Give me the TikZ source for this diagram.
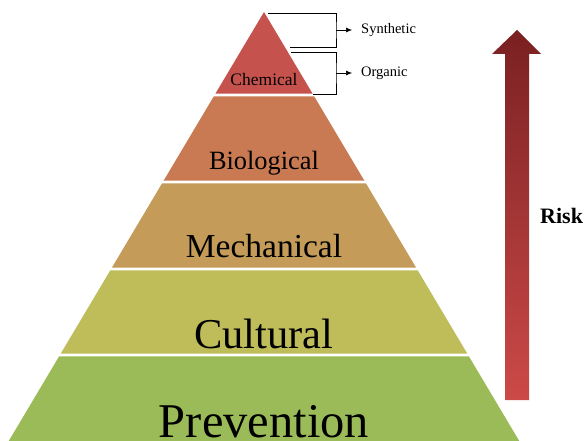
\documentclass[tikz,border=0pt]{standalone}
\usepackage{fontspec}
\setmainfont{Liberation Serif}
\usepackage{tikz}
\usetikzlibrary{math,arrows,arrows.meta,positioning,calc}

\definecolor{chem}{RGB}{198,82,78}
\definecolor{bio}{RGB}{201,122,82}
\definecolor{mech}{RGB}{196,155,88}
\definecolor{cult}{RGB}{191,188,90}
\definecolor{prev}{RGB}{155,187,89}
\definecolor{riskdark}{RGB}{122,32,34}
\definecolor{risklight}{RGB}{204,74,72}

\tikzset{>={Latex[length=6pt,width=5pt]},
    layer/.style={font=\fontsize{#1}{#1}\selectfont, anchor=base, inner sep=0pt},
    branch/.style={anchor=west, inner xsep=9pt, inner ysep=1pt, font=\fontsize{14.5}{14.5}\selectfont}}

\begin{document}
\begin{tikzpicture}[x=1pt, y=-1pt]
    \useasboundingbox (0,0) rectangle (586,441);
    \fill[white] (0,0) rectangle (586,441);

    % pyramid bands, apex at (264,12)
    \foreach[count=\i] \lname/\ltop/\lbot/\lcol/\lsize/\lbase in {Chemical/12/95/chem/17.5/86,Biological/95/182/bio/26.4/169,Mechanical/182/269/mech/33.5/257,Cultural/269/355/cult/42.5/348,Prevention/355/445/prev/48.5/437} {
        \pgfmathsetmacro\yt{\ltop+(\i>1)*1.3}
        \pgfmathsetmacro\yb{\lbot-1.3}
        \pgfmathsetmacro\wt{0.595*(\yt-12)}
        \pgfmathsetmacro\wb{0.595*(\yb-12)}
        \fill[\lcol] (264-\wt,\yt) -- (264+\wt,\yt) -- (264+\wb,\yb) -- (264-\wb,\yb) -- cycle;
        \node[layer=\lsize] (n-\i) at (264,\lbase) {\lname};
    }

    % chemical split
    \coordinate (syn-a) at (268,13);
    \coordinate (syn-b) at (290,47);
    \coordinate (syn-m) at (336,30);
    \coordinate (org-a) at (291,52);
    \coordinate (org-b) at (313,94);
    \coordinate (org-m) at (336,73);
    \draw[line width=0.6pt] (syn-a) -| (syn-m) |- (syn-b);
    \draw[line width=0.6pt] (org-a) -| (org-m) |- (org-b);
    \node[branch] (syn) at (352,30) {Synthetic};
    \node[branch] (org) at (352,73) {Organic};
    \draw[->, line width=0.6pt] (syn-m) -- (syn);
    \draw[->, line width=0.6pt] (org-m) -- (org);

    % risk arrow
    \shade[top color=riskdark, bottom color=risklight]
        (517,30) -- (541,54) -- (529,54) -- (529,400) -- (505,400) -- (505,54) -- (492,54) -- cycle;
    \node[anchor=west, inner sep=0pt, font=\bfseries\fontsize{22}{22}\selectfont] (risk) at (540,216) {Risk};
\end{tikzpicture}
\end{document}
